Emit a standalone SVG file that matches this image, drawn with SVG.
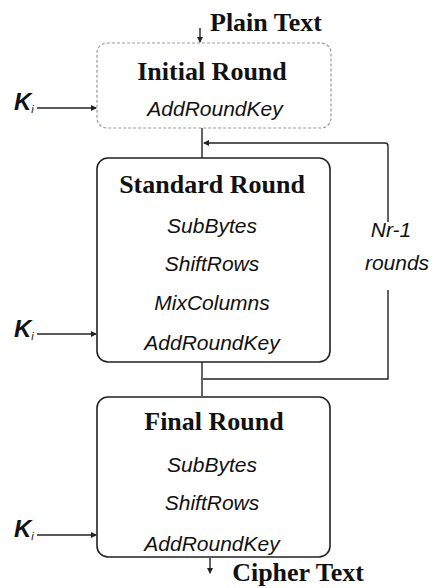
<svg xmlns="http://www.w3.org/2000/svg" width="433" height="588" viewBox="0 0 433 588">
<style>
.box{fill:#fff;stroke:#222;stroke-width:1.6}
.dot{fill:#fff;stroke:#999;stroke-width:1.2;stroke-dasharray:3 2}
.title{font-family:"Liberation Serif",serif;font-weight:bold;font-size:26px;fill:#111;text-anchor:middle}
.op{font-family:"Liberation Sans",Arial,sans-serif;font-style:italic;font-size:21px;fill:#111;text-anchor:middle}
.k{font-family:"Liberation Sans",Arial,sans-serif;font-style:italic;font-weight:bold;font-size:24px;fill:#111}
.ks{font-size:11px;font-weight:normal}
.ln{fill:none;stroke:#222;stroke-width:1.4}
</style>
<defs>
<marker id="ah" markerWidth="6" markerHeight="6" refX="5" refY="3" orient="auto" markerUnits="userSpaceOnUse">
<path d="M0,0 L6,3 L0,6 Z" fill="#222"/>
</marker>
</defs>
<g id="connectors">
<line class="ln" x1="200" y1="28" x2="200" y2="42" marker-end="url(#ah)"/>
<line class="ln" x1="202" y1="128" x2="202" y2="158"/>
<path class="ln" d="M202,362 L202,396"/>
<path class="ln" d="M203,379 L388,379 L388,290"/>
<path class="ln" d="M388,222 L388,146 Q388,143 385,143 L204,143" marker-end="url(#ah)"/>
<line class="ln" x1="210" y1="558" x2="210" y2="573" marker-end="url(#ah)"/>
<line class="ln" x1="37" y1="108" x2="96" y2="108" marker-end="url(#ah)"/>
<line class="ln" x1="37" y1="334" x2="96" y2="334" marker-end="url(#ah)"/>
<line class="ln" x1="37" y1="535" x2="96" y2="535" marker-end="url(#ah)"/>
</g>
<g id="plaintext"><text class="title" x="266" y="31">Plain Text</text></g>
<g id="initial">
<rect class="dot" x="97" y="43" width="234" height="85" rx="10"/>
<text class="title" x="212" y="80">Initial Round</text>
<text class="op" x="215" y="116">AddRoundKey</text>
</g>
<g id="standard">
<rect class="box" x="97" y="158" width="233" height="204" rx="11"/>
<text class="title" x="212" y="193">Standard Round</text>
<text class="op" x="212" y="233">SubBytes</text>
<text class="op" x="212" y="271">ShiftRows</text>
<text class="op" x="212" y="310">MixColumns</text>
<text class="op" x="212" y="350">AddRoundKey</text>
</g>
<g id="final">
<rect class="box" x="97" y="397" width="233" height="160" rx="11"/>
<text class="title" x="214" y="430">Final Round</text>
<text class="op" x="212" y="472">SubBytes</text>
<text class="op" x="212" y="510">ShiftRows</text>
<text class="op" x="212" y="551">AddRoundKey</text>
</g>
<g id="ciphertext"><text class="title" x="298" y="581">Cipher Text</text></g>
<g id="loop-label">
<text class="op" x="391" y="237">Nr-1</text>
<text class="op" x="397" y="270">rounds</text>
</g>
<g id="k1"><text class="k" x="14" y="110">K<tspan class="ks" dy="3">i</tspan></text></g>
<g id="k2"><text class="k" x="14" y="337">K<tspan class="ks" dy="3">i</tspan></text></g>
<g id="k3"><text class="k" x="14" y="537">K<tspan class="ks" dy="3">i</tspan></text></g>
</svg>
